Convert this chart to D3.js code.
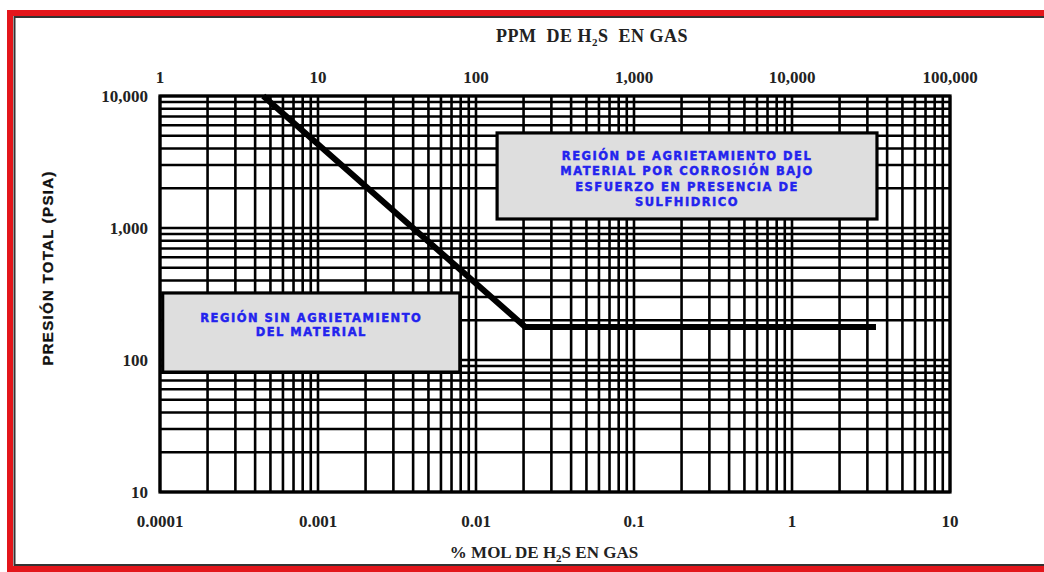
<!DOCTYPE html>
<html>
<head>
<meta charset="utf-8">
<script src="https://cdn.jsdelivr.net/npm/d3@7"></script>
<style>
  body { margin: 0; background: #fff; }
  svg { display: block; }
  text { white-space: pre; }
</style>
</head>
<body>
<svg id="chart" width="1044" height="572"></svg>
<script>
// axis domains
const molDomain = [0.0001, 10];
const ppmDomain = [1, 100000];
const psiDomain = [10, 10000];

// tick labels
const molTicks = [0.0001, 0.001, 0.01, 0.1, 1, 10];
const molLabels = ["0.0001", "0.001", "0.01", "0.1", "1", "10"];
const ppmTicks = [1, 10, 100, 1000, 10000, 100000];
const ppmLabels = ["1", "10", "100", "1,000", "10,000", "100,000"];
const psiTicks = [10, 100, 1000, 10000];
const psiLabels = ["10", "100", "1,000", "10,000"];

// boundary curve (% mol H2S vs total pressure psia)
const curveMol = [0.00045, 0.0205, 3.4];
const curvePsi = [10000, 178, 178];

// region boxes (in data units)
const regionMolFrom = [0.000104, 0.0136];
const regionMolTo = [0.0079, 3.45];
const regionPsiTop = [322, 5250];
const regionPsiBottom = [81, 1170];
const regionText = [
  ["REGIÓN SIN AGRIETAMIENTO", "DEL MATERIAL"],
  ["REGIÓN DE AGRIETAMIENTO DEL", "MATERIAL POR CORROSIÓN BAJO", "ESFUERZO EN PRESENCIA DE", "SULFHIDRICO"],
];

const svg = d3.select("#chart");
const width = 1044, height = 572;
const margin = { top: 96, right: 94, bottom: 80, left: 160 };

svg.append("rect").attr("width", width).attr("height", height).attr("fill", "#fff");

// red frame
svg.append("rect")
  .attr("x", 10).attr("y", 13).attr("width", 1100).attr("height", 556)
  .attr("fill", "none").attr("stroke", "#e3161b").attr("stroke-width", 6);
svg.append("rect")
  .attr("x", 14.5).attr("y", 17).attr("width", 1100).attr("height", 548)
  .attr("fill", "none").attr("stroke", "#333").attr("stroke-width", 2);

const x = d3.scaleLog().domain(molDomain).range([margin.left, width - margin.right]);
const xTop = d3.scaleLog().domain(ppmDomain).range([margin.left, width - margin.right]);
const y = d3.scaleLog().domain(psiDomain).range([height - margin.bottom, margin.top]);

const grid = svg.append("g").attr("stroke", "#000").attr("stroke-width", 2.6);
grid.selectAll(".vx")
  .data(x.ticks())
  .join("line")
  .attr("x1", (d) => x(d)).attr("x2", (d) => x(d))
  .attr("y1", y(psiDomain[0])).attr("y2", y(psiDomain[1]));
grid.selectAll(".hy")
  .data(y.ticks())
  .join("line")
  .attr("y1", (d) => y(d)).attr("y2", (d) => y(d))
  .attr("x1", x(molDomain[0])).attr("x2", x(molDomain[1]));

svg.append("rect")
  .attr("x", x(molDomain[0])).attr("y", y(psiDomain[1]))
  .attr("width", x(molDomain[1]) - x(molDomain[0]))
  .attr("height", y(psiDomain[0]) - y(psiDomain[1]))
  .attr("fill", "none").attr("stroke", "#000").attr("stroke-width", 3.2);

// region boxes
regionText.forEach((lines, i) => {
  const x0 = x(regionMolFrom[i]), x1 = x(regionMolTo[i]);
  const y0 = y(regionPsiTop[i]), y1 = y(regionPsiBottom[i]);
  svg.append("rect")
    .attr("x", x0).attr("y", y0).attr("width", x1 - x0).attr("height", y1 - y0)
    .attr("fill", "#dedede").attr("stroke", "#000").attr("stroke-width", 3.2);
  const lh = i === 0 ? 14 : 15.5;
  const cy = i === 0 ? y0 + 29 : y0 + 27;
  svg.append("g").selectAll("text")
    .data(lines)
    .join("text")
    .attr("x", (x0 + x1) / 2)
    .attr("y", (d, j) => cy + j * lh)
    .attr("text-anchor", "middle")
    .attr("font-family", "DejaVu Sans, sans-serif")
    .attr("font-weight", "bold")
    .attr("font-size", 11.5)
    .attr("letter-spacing", 1.5)
    .attr("fill", "#2323ee")
    .attr("stroke", "#2323ee")
    .attr("stroke-width", 0.45)
    .text((d) => d);
});

// boundary line
const line = d3.line().x((d) => x(d[0])).y((d) => y(d[1]));
svg.append("path")
  .datum(curveMol.map((m, i) => [m, curvePsi[i]]))
  .attr("d", line)
  .attr("fill", "none").attr("stroke", "#000").attr("stroke-width", 6)
  .attr("stroke-linejoin", "miter");

// tick labels
const tickFont = (sel) => sel
  .attr("font-family", "Liberation Serif, Times New Roman, serif")
  .attr("font-weight", "bold")
  .attr("font-size", 17)
  .attr("fill", "#222");

svg.append("g").selectAll("text")
  .data(ppmTicks)
  .join("text")
  .attr("x", (d) => xTop(d))
  .attr("y", 83)
  .attr("text-anchor", "middle")
  .call(tickFont)
  .text((d, i) => ppmLabels[i]);

svg.append("g").selectAll("text")
  .data(molTicks)
  .join("text")
  .attr("x", (d) => x(d))
  .attr("y", 527)
  .attr("text-anchor", "middle")
  .call(tickFont)
  .text((d, i) => molLabels[i]);

svg.append("g").selectAll("text")
  .data(psiTicks)
  .join("text")
  .attr("x", 148)
  .attr("y", (d) => y(d) + 6)
  .attr("text-anchor", "end")
  .call(tickFont)
  .text((d, i) => psiLabels[i]);

// axis titles
function h2sTitle(txt, cx, cy, size, spacing) {
  const t = svg.append("text")
    .attr("x", cx).attr("y", cy)
    .attr("text-anchor", "middle")
    .attr("font-family", "Liberation Serif, Times New Roman, serif")
    .attr("font-weight", "bold")
    .attr("font-size", size)
    .attr("letter-spacing", spacing)
    .attr("fill", "#222");
  t.append("tspan").text(txt[0] + "H");
  t.append("tspan").attr("font-size", 11).attr("dy", 4).text("2");
  t.append("tspan").attr("dy", -4).text("S " + txt[1]);
}
h2sTitle(["PPM  DE ", " EN GAS"], 592, 42, 18, 0.5);
h2sTitle(["% MOL DE ", "EN GAS"], 544, 558, 17, 0);

svg.append("text")
  .attr("transform", "translate(53,268) rotate(-90)")
  .attr("text-anchor", "middle")
  .attr("font-family", "Liberation Sans, Arial, sans-serif")
  .attr("font-weight", "bold")
  .attr("font-size", 15)
  .attr("letter-spacing", 1.3)
  .attr("fill", "#111")
  .attr("stroke", "#111")
  .attr("stroke-width", 0.3)
  .text("PRESIÓN TOTAL (PSIA)");
</script>
</body>
</html>
